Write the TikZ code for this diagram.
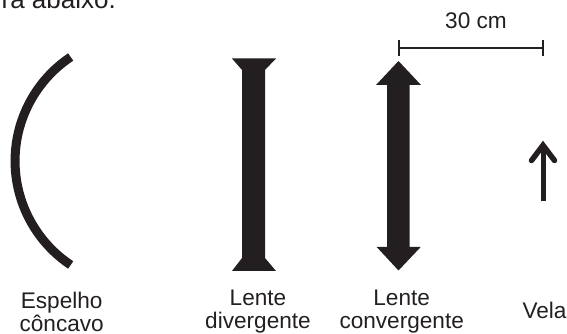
\documentclass[tikz,border=0pt]{standalone}
\usepackage{fontspec}
\setmainfont{Liberation Sans}
\definecolor{ink}{HTML}{231F20}
\tikzset{
  lbl/.style={text=ink,align=center,inner sep=0pt,font=\fontsize{22.6}{23.6}\selectfont},
  solidpart/.style={fill=ink,draw=none},
  dimline/.style={draw=ink,line width=2pt},
  mirrorline/.style={draw=ink,line width=9pt},
  candle/.style={draw=ink,line width=5.5pt,line cap=round,line join=miter}
}
\begin{document}
\begin{tikzpicture}[x=1pt,y=1pt]
\useasboundingbox (0,0) rectangle (567,334);
\clip (0,0) rectangle (567,334);
% cropped sentence at the top
\node[lbl,anchor=base east,font=\fontsize{26}{28}\selectfont] (topline) at (116,325) {ra abaixo.};
% mirror
\draw[mirrorline] (70.7,277) arc[start angle=123.7,end angle=236.3,radius=125];
% diverging lens
\fill[solidpart] (232,275.5)--(276,275.5)--(265,264)--(265,76)--(276,63)--(232,63)--(242,76)--(242,264)--cycle;
% converging lens
\fill[solidpart] (398.5,273)--(421,249)--(409.5,249)--(409.5,87)--(420.7,87)--(398.5,63.5)--(376.7,87)--(387,87)--(387,249)--(376,249)--cycle;
% dimension
\coordinate (dl) at (399,286);
\coordinate (dr) at (543,286);
\draw[dimline] (dl)--(dr);
\draw[dimline] ([yshift=8pt]dl)--([yshift=-8pt]dl);
\draw[dimline] ([yshift=8pt]dr)--([yshift=-8pt]dr);
\node[lbl,anchor=base] (dim) at (476,305.5) {30 cm};
% candle arrow
\coordinate (ctip) at (543,188.7);
\coordinate (cfoot) at (543,133.3);
\draw[candle,line width=5pt,line cap=butt] (cfoot)--(543,186);
\draw[candle] (531.5,173.5)--(ctip)--(554.5,173.5);
% labels
\node[lbl,anchor=center] (espelho) at (61.7,22.1) {Espelho\\côncavo};
\node[lbl,anchor=center] (ldiv) at (258,22.3) {Lente\\divergente};
\node[lbl,anchor=center] (lconv) at (401.7,22.3) {Lente\\convergente};
\node[lbl,anchor=base] (vela) at (544.5,15) {Vela};
\end{tikzpicture}
\end{document}
